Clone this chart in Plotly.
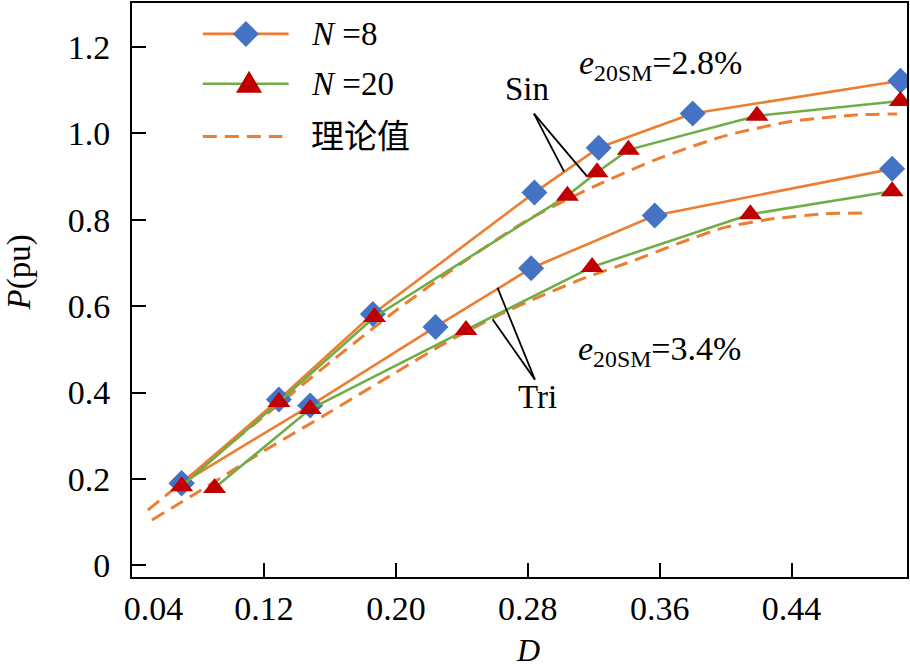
import plotly.graph_objects as go

# ---- data ----
D_sin8 = [0.070, 0.129, 0.186, 0.284, 0.323, 0.380, 0.506]
P_sin8 = [0.190, 0.384, 0.582, 0.863, 0.967, 1.046, 1.122]
D_tri8 = [0.070, 0.148, 0.224, 0.282, 0.357, 0.501]
P_tri8 = [0.190, 0.370, 0.552, 0.688, 0.810, 0.918]

D_sin20 = [0.070, 0.129, 0.187, 0.304, 0.322, 0.341, 0.419, 0.506]
P_sin20 = [0.183, 0.378, 0.575, 0.856, 0.910, 0.962, 1.041, 1.075]
D_tri20 = [0.090, 0.148, 0.2425, 0.319, 0.415, 0.501]
P_tri20 = [0.179, 0.362, 0.545, 0.691, 0.813, 0.866]

D_sin_th = [0.0495, 0.08, 0.12, 0.16, 0.20, 0.24, 0.28, 0.32, 0.36, 0.40, 0.44, 0.48, 0.504]
P_sin_th = [0.128, 0.222, 0.345, 0.470, 0.590, 0.700, 0.800, 0.877, 0.943, 0.995, 1.028, 1.043, 1.045]
D_tri_th = [0.052, 0.08, 0.12, 0.16, 0.20, 0.23, 0.26, 0.29, 0.315, 0.343, 0.371, 0.40, 0.43, 0.46, 0.484]
P_tri_th = [0.105, 0.170, 0.265, 0.355, 0.447, 0.515, 0.575, 0.627, 0.666, 0.704, 0.745, 0.783, 0.803, 0.814, 0.816]

x_ticks = [0.04, 0.12, 0.20, 0.28, 0.36, 0.44]
x_ticktext = ["\u00a0" * 5 + "0.04", "0.12", "0.20", "0.28", "0.36", "0.44"]
y_ticks = [0, 0.2, 0.4, 0.6, 0.8, 1.0, 1.2]
y_ticktext = ["0", "0.2", "0.4", "0.6", "0.8", "1.0", "1.2"]

legend_labels = ["<i>N</i> =8", "<i>N</i> =20", "理论值"]

ORANGE = "#ED7D31"
GREEN = "#70AD47"
BLUE = "#4472C4"
RED = "#C00000"
FONT = "Liberation Serif"
FONT_CJK = "Liberation Serif, Noto Sans CJK SC"

fig = go.Figure()

# theoretical curves
for xs, ys in [(D_sin_th, P_sin_th), (D_tri_th, P_tri_th)]:
    fig.add_trace(go.Scatter(x=xs, y=ys, mode="lines", showlegend=False,
                             line=dict(color=ORANGE, width=3, dash="14px,8px", shape="spline", smoothing=0.6),
                             hoverinfo="skip"))
# N=8
for xs, ys in [(D_sin8, P_sin8), (D_tri8, P_tri8)]:
    fig.add_trace(go.Scatter(x=xs, y=ys, mode="lines+markers", showlegend=False,
                             line=dict(color=ORANGE, width=2.6),
                             marker=dict(symbol="diamond", size=20, color=BLUE, line=dict(width=0))))
# N=20
for xs, ys in [(D_sin20, P_sin20), (D_tri20, P_tri20)]:
    fig.add_trace(go.Scatter(x=xs, y=ys, mode="lines+markers", showlegend=False,
                             line=dict(color=GREEN, width=2.6),
                             marker=dict(symbol="triangle-up", size=20, color=RED, line=dict(width=0))))

shapes = []
annotations = []

# callout lines
for (x0, y0, x1, y1) in [(0.2837, 1.046, 0.3019, 0.912), (0.2837, 1.046, 0.3158, 0.901),
                         (0.2843, 0.430, 0.2616, 0.643), (0.2843, 0.430, 0.2586, 0.570)]:
    shapes.append(dict(type="line", xref="x", yref="y", x0=x0, y0=y0, x1=x1, y1=y1,
                       line=dict(color="black", width=1.8)))

annotations += [
    dict(x=0.2795, y=1.104, xref="x", yref="y", text="Sin", showarrow=False,
         font=dict(family=FONT, size=33, color="black")),
    dict(x=0.2856, y=0.389, xref="x", yref="y", text="Tri", showarrow=False,
         font=dict(family=FONT, size=33, color="black")),
    dict(x=0.310, y=1.158, xref="x", yref="y", xanchor="left", text="<i>e</i><sub>20SM</sub>=2.8%",
         showarrow=False, font=dict(family=FONT, size=34, color="black")),
    dict(x=0.309, y=0.497, xref="x", yref="y", xanchor="left", text="<i>e</i><sub>20SM</sub>=3.4%",
         showarrow=False, font=dict(family=FONT, size=34, color="black")),
]

# custom legend (paper coords)
lx0, lx1, lmx = 0.0914, 0.2021, 0.1470
ly = [0.9462, 0.8594, 0.7674]
shapes.append(dict(type="line", xref="paper", yref="paper", x0=lx0, x1=lx1, y0=ly[0], y1=ly[0],
                   line=dict(color=ORANGE, width=2.6)))
shapes.append(dict(type="path", xref="paper", yref="paper", xsizemode="pixel", ysizemode="pixel",
                   xanchor=lmx, yanchor=ly[0], path="M -13,0 L 0,13 L 13,0 L 0,-13 Z",
                   fillcolor=BLUE, line=dict(width=0)))
shapes.append(dict(type="line", xref="paper", yref="paper", x0=lx0, x1=lx1, y0=ly[1], y1=ly[1],
                   line=dict(color=GREEN, width=2.6)))
shapes.append(dict(type="path", xref="paper", yref="paper", xsizemode="pixel", ysizemode="pixel",
                   xanchor=lmx + 0.004, yanchor=ly[1], path="M -13,-9 L 13,-9 L 0,13 Z",
                   fillcolor=RED, line=dict(width=0)))
shapes.append(dict(type="line", xref="paper", yref="paper", x0=lx0, x1=lx1 - 0.008, y0=ly[2], y1=ly[2],
                   line=dict(color=ORANGE, width=3, dash="14px,8px")))
for lab, yy in zip(legend_labels, ly):
    annotations.append(dict(x=0.229, y=yy, xref="paper", yref="paper", xanchor="left", yanchor="middle",
                            text=lab, showarrow=False, font=dict(family=FONT_CJK, size=33, color="black")))

# axis titles
annotations.append(dict(x=0.28, y=-0.128, xref="x", yref="paper", text="<i>D</i>", showarrow=False,
                        font=dict(family=FONT, size=32, color="black"), yanchor="middle"))
annotations.append(dict(x=-0.145, y=0.53, xref="paper", yref="paper", text="<i>P</i>(pu)", showarrow=False,
                        textangle=-90, font=dict(family=FONT, size=33, color="black"), xanchor="center",
                        yanchor="middle"))

fig.update_layout(
    width=910, height=670,
    margin=dict(l=132, r=1, t=1, b=93),
    paper_bgcolor="white", plot_bgcolor="white",
    showlegend=False,
    shapes=shapes, annotations=annotations,
    font=dict(family=FONT, size=33, color="black"),
)
fig.update_xaxes(range=[0.0399, 0.51], tickvals=x_ticks, ticktext=x_ticktext,
                 showgrid=False, zeroline=False, showline=True, linecolor="black", linewidth=2,
                 mirror=True, ticks="inside", ticklen=14, tickwidth=2, tickcolor="black",
                 ticklabelstandoff=0, tickfont=dict(family=FONT, size=34, color="black"))
fig.update_yaxes(range=[-0.027, 1.302], tickvals=y_ticks, ticktext=y_ticktext,
                 showgrid=False, zeroline=False, showline=True, linecolor="black", linewidth=2,
                 mirror=True, ticks="inside", ticklen=14, tickwidth=2, tickcolor="black",
                 ticklabelstandoff=13, tickfont=dict(family=FONT, size=34, color="black"))

fig.write_html("out.html", config={"displayModeBar": False},
               post_script="document.body.style.margin='0';")
